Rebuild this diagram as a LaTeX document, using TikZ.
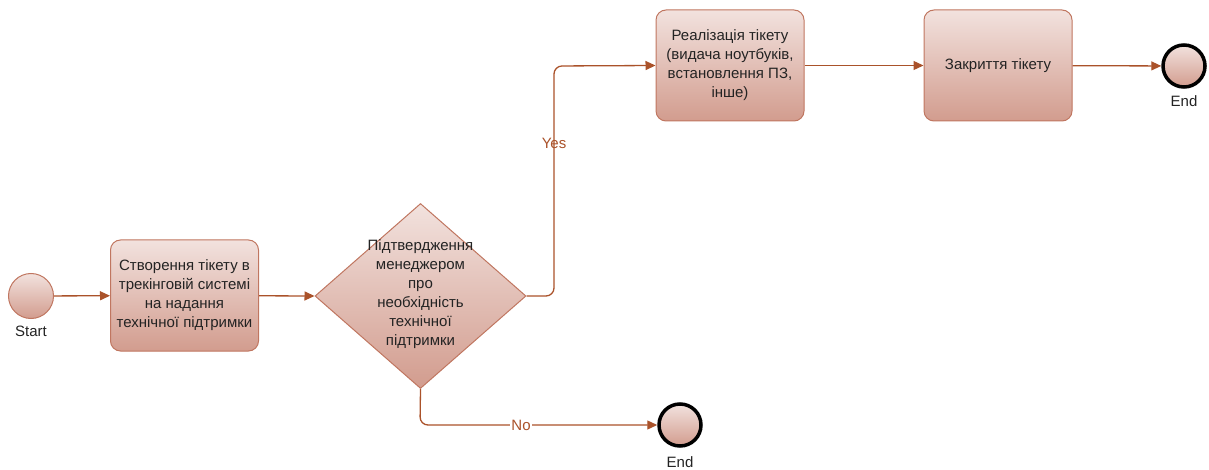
\documentclass[tikz,border=0pt]{standalone}
\usepackage{fontspec}
\setmainfont{Liberation Sans}
\usetikzlibrary{shapes.geometric,arrows.meta}
\definecolor{edgec}{RGB}{170,82,42}
\definecolor{bordc}{RGB}{192,118,96}
\definecolor{topc}{RGB}{242,226,222}
\definecolor{botc}{RGB}{210,156,142}
\definecolor{txtc}{RGB}{35,35,35}
\tikzset{
  x=1pt,y=-1pt,
  every node/.style={font=\fontsize{15}{19}\selectfont, text=txtc},
  task/.style={draw=bordc, line width=1pt, rounded corners=10pt, top color=topc, bottom color=botc, minimum width=148pt, minimum height=111pt, align=center, inner sep=2pt},
  gate/.style={diamond, draw=bordc, line width=1pt, top color=topc, bottom color=botc, minimum width=211pt, minimum height=185pt, aspect=1.14, align=center, inner sep=0pt},
  startev/.style={circle, draw=bordc, line width=1pt, top color=topc, bottom color=botc, minimum size=45pt, inner sep=0pt},
  endev/.style={circle, draw=black, line width=3.5pt, top color=topc, bottom color=botc, minimum size=42pt, inner sep=0pt},
  flow/.style={draw=edgec, line width=1.3pt, rounded corners=8pt, -{Triangle[length=10pt,width=9pt]}},
  lbl/.style={text=edgec, font=\fontsize{15}{16}\selectfont},
}
\begin{document}
\begin{tikzpicture}
\useasboundingbox (0,0) rectangle (1209,470);
\node[startev] (start) at (31,296) {};
\node (startl) at (31,331) {Start};
\node[task] (create) at (184.5,295.5) {Створення тікету в\\трекінговій системі\\на надання\\технічної підтримки};
\node[gate] (dec) at (420.5,296) {};
\node (decl) at (420.5,294) {\begin{tabular}{@{}c@{}}Підтвердження\\менеджером\\про\\необхідність\\технічної\\підтримки\end{tabular}};
\node[task] (impl) at (730,65.5) {Реалізація тікету\\(видача ноутбуків,\\встановлення ПЗ,\\інше)};
\node[task] (close) at (998,65.5) {Закриття тікету};
\node[endev] (end1) at (1184,66) {};
\node (end1l) at (1184,101) {End};
\node[endev] (end2) at (680,425) {};
\node (end2l) at (680,462) {End};
\coordinate (y1) at (554,296);
\coordinate (y2) at (554,66);
\coordinate (n1) at (420,425);
\draw[flow] (start) -- (create);
\draw[flow] (create) -- (dec.west);
\draw[flow] (dec.east) -- (y1) -- (y2) -- (impl.west);
\node[lbl] (yes) at (554,143) {Yes};
\draw[flow] (impl) -- (close);
\draw[flow] (close) -- (end1);
\draw[flow] (dec.south) -- (n1) -- (end2);
\node[lbl, fill=white, inner sep=1pt] (no) at (521,425) {No};
\end{tikzpicture}
\end{document}
